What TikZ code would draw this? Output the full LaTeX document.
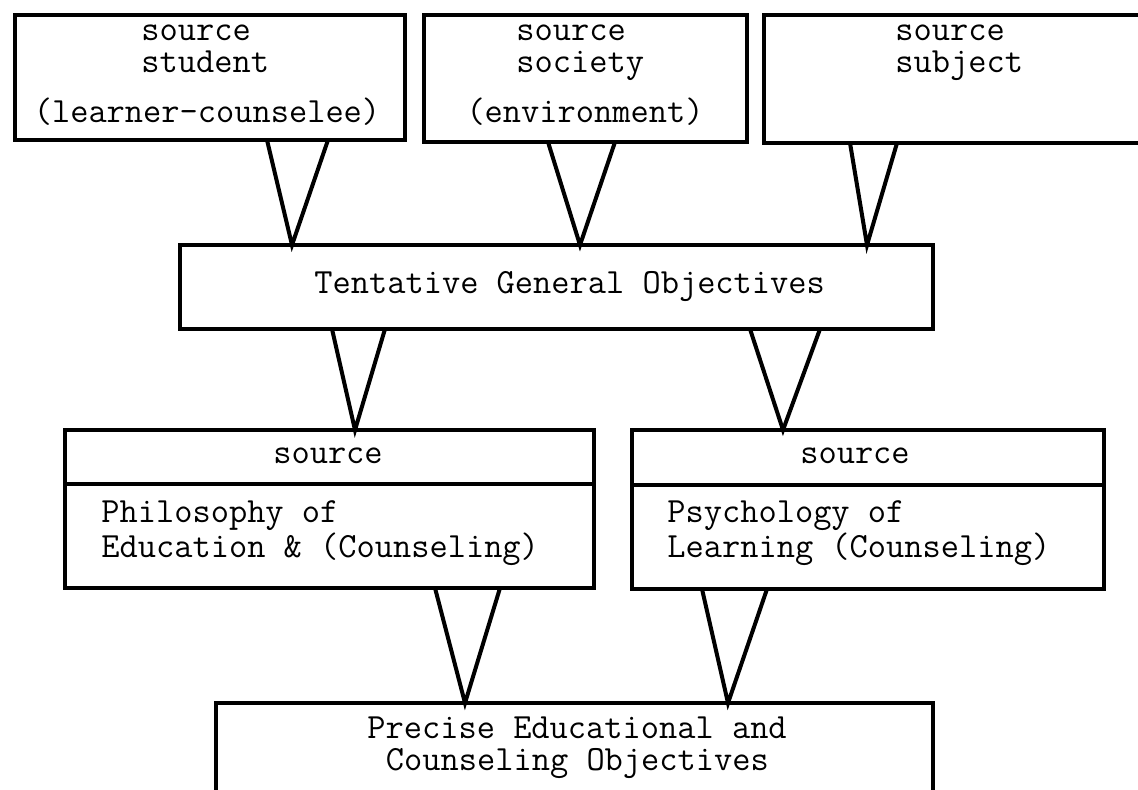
\documentclass[tikz,border=0pt]{standalone}
\usetikzlibrary{calc}
\tikzset{
	box/.style={draw, line width=1.6pt, inner sep=0pt, outer sep=0pt, anchor=north west},
	txt/.style={font=\ttfamily\fontsize{17.7}{16}\selectfont, inner sep=0pt},
	funnel/.style={line width=2pt, line join=miter, line cap=round}
}
\begin{document}
	\begin{tikzpicture}[x=0.5pt,y=-0.5pt]
	\useasboundingbox (0,0) rectangle (1138,789);
	\clip (0,0) rectangle (1138,789);
	\node[box, minimum width=195pt, minimum height=62.5pt] (stud) at (15,15) {};
	\node[box, minimum width=161.5pt, minimum height=63.5pt] (soc) at (424,15) {};
	\node[box, minimum width=200pt, minimum height=64pt] (subj) at (764,15) {};
	\node[box, minimum width=376.5pt, minimum height=42pt] (tgo) at (180,245) {};
	\node[box, minimum width=264.5pt, minimum height=79pt] (phil) at (65,430) {};
	\node[box, minimum width=236pt, minimum height=79.5pt] (psych) at (632,430) {};
	\node[box, minimum width=358.5pt, minimum height=60pt] (prec) at (216,703) {};
	\draw[line width=1.6pt] ($(phil.north west)+(0,54)$) -- ($(phil.north east)+(0,54)$);
	\draw[line width=1.6pt] ($(psych.north west)+(0,55)$) -- ($(psych.north east)+(0,55)$);
	\node[txt, align=left, anchor=base west] (studname) at (141,72) {source\\student};
	\node[txt, anchor=base] (studnote) at (207,122) {(learner-counselee)};
	\node[txt, align=left, anchor=base west] (socname) at (516,72) {source\\society};
	\node[txt, anchor=base] (socnote) at (585,122) {(environment)};
	\node[txt, align=left, anchor=base west] (subjname) at (895,72) {source\\subject};
	\node[txt, anchor=base west] (tgotext) at (314,293) {Tentative General Objectives};
	\node[txt, anchor=base] (philsrc) at (328,463) {source};
	\node[txt, align=left, anchor=base west] (philname) at (101,557) {Philosophy of\\Education \& (Counseling)};
	\node[txt, anchor=base] (psychsrc) at (855,463) {source};
	\node[txt, align=left, anchor=base west] (psychname) at (667,557) {Psychology of\\Learning (Counseling)};
	\node[txt, align=left, anchor=base west] (precname) at (367,770) {Precise Educational and\\\hspace{0.525em}Counseling Objectives};
	\foreach \s/\a/\b/\d/\t in {stud/252/313/tgo/112, soc/124/191/tgo/400, subj/86/133/tgo/687,
		tgo/152/205/phil/290, tgo/570/640/psych/151, phil/370/435/prec/249, psych/70/135/prec/512}
	{
		\draw[funnel] ($(\s.south west)+(\a,0)$) -- ($(\d.north west)+(\t,0)$) -- ($(\s.south west)+(\b,0)$);
	}
	\end{tikzpicture}
\end{document}
